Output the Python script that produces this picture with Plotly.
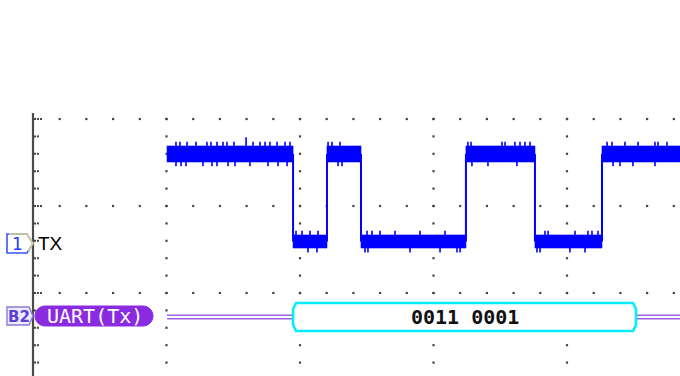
import plotly.graph_objects as go

# ---------------- data (time in screen divisions, amplitude in divisions) -------------
# edge times of the captured TX waveform (segment boundaries)
edge_times = [1.004, 1.948, 2.202, 2.457, 3.243, 3.760, 4.262, 4.90]
# logic state of each segment between consecutive edges
segment_states = [1, 0, 1, 0, 1, 0, 1]
level_high = 0.598      # div
level_low = -0.408      # div
noise_high = 0.092      # half-width of noise band at high level (div)
noise_low = 0.075       # half-width of noise band at low level (div)
spike_len = 0.05        # typical noise spike beyond band (div)

high_top_spikes = [1.071, 1.101, 1.154, 1.221, 1.303, 1.333, 1.378, 1.423, 1.453, 1.506,
                   1.596, 1.648, 1.700, 1.738, 1.775, 1.828, 1.888, 1.925,
                   2.210, 2.240, 2.300,
                   3.258, 3.281, 3.513, 3.536, 3.610, 3.648, 3.685, 3.723,
                   4.300, 4.337, 4.434, 4.532, 4.659, 4.682, 4.749]
high_top_tall = {1.596: 0.10}
high_bot_spikes = [1.071, 1.109, 1.146, 1.273, 1.341, 1.378, 1.461, 1.513, 1.625,
                   1.760, 1.835, 1.903, 2.285, 2.315,
                   3.288, 3.408, 3.625, 4.345, 4.397, 4.494, 4.659]
low_top_spikes = [1.970, 2.015, 2.075, 2.135, 2.502, 2.539, 2.599, 2.712, 2.899, 3.086,
                  3.835, 3.858, 4.060, 4.157, 4.187, 4.232]
low_bot_spikes = [2.060, 2.127, 2.487, 2.509, 2.824, 3.049, 3.176, 3.199,
                  3.775, 3.798, 4.022, 4.135]

# UART decode
decode_start = 1.948
decode_end = 4.517
decode_value = 0x31
bus_level = -1.276
bus_start = 1.004
bus_end = 4.90

# screen / grid
x_range = [-0.2472, 4.8464]
y_range = [-1.954, 2.368]
major_x = [1, 2, 3, 4]
major_y = [1, 0, -1]
minor_step = 0.2

# ---------------- helpers for decorations (pixel -> data) -------------
PX_X0, PX_DX, PX_Y0, PX_DY = 33.0, 133.5, 206.0, 87.0
def dx(px):
    return (px - PX_X0) / PX_DX
def dy(py):
    return (PX_Y0 - py) / PX_DY

BLUE = "#0000ff"
fig = go.Figure()

# ---------------- grid dots -------------
gx, gy = [], []
n_rows = int((1 - y_range[0]) / minor_step) + 1
for xm in major_x:
    for k in range(n_rows):
        gx.append(xm); gy.append(1 - k * minor_step)
n_cols = int(x_range[1] / minor_step) + 1
for ym in major_y:
    for k in range(1, n_cols + 1):
        gx.append(k * minor_step); gy.append(ym)
fig.add_trace(go.Scatter(x=gx, y=gy, mode="markers", hoverinfo="skip",
                         marker=dict(size=2.2, color="#444", symbol="square", line=dict(width=0))))
# axis tick dots
tx, ty = [], []
for k in range(n_rows):
    yv = 1 - k * minor_step
    major = abs(round(yv) - yv) < 1e-6
    offs = [0.015, 0.037, 0.060] if major else [0.015, 0.037]
    for o in offs:
        tx.append(o); ty.append(yv)
fig.add_trace(go.Scatter(x=tx, y=ty, mode="markers", hoverinfo="skip",
                         marker=dict(size=2, color="#444", symbol="square", line=dict(width=0))))

# left axis line
fig.add_shape(type="line", x0=0, x1=0, y0=dy(113), y1=y_range[0] - 0.1,
              line=dict(color="#4a4a4a", width=2.2), layer="above")

# ---------------- waveform -------------
bx, by = [], []
vx, vy = [], []
for i, st in enumerate(segment_states):
    t0, t1 = edge_times[i], edge_times[i + 1]
    lv, h = (level_high, noise_high) if st else (level_low, noise_low)
    bx += [t0, t1, t1, t0, t0, None]
    by += [lv - h, lv - h, lv + h, lv + h, lv - h, None]
    if i > 0:
        vx += [t0, t0, None]
        vy += [level_high, level_low, None]
fig.add_trace(go.Scatter(x=bx, y=by, mode="lines", fill="toself", fillcolor=BLUE,
                         line=dict(width=0.6, color=BLUE), hoverinfo="skip"))
fig.add_trace(go.Scatter(x=vx, y=vy, mode="lines", line=dict(width=2, color=BLUE),
                         hoverinfo="skip"))
sx, sy = [], []
for t in high_top_spikes:
    base = level_high + noise_high
    sx += [t, t, None]; sy += [base - 0.01, base + high_top_tall.get(t, spike_len), None]
for t in high_bot_spikes:
    base = level_high - noise_high
    sx += [t, t, None]; sy += [base + 0.01, base - spike_len, None]
for t in low_top_spikes:
    base = level_low + noise_low
    sx += [t, t, None]; sy += [base - 0.01, base + spike_len, None]
for t in low_bot_spikes:
    base = level_low - noise_low
    sx += [t, t, None]; sy += [base + 0.01, base - spike_len, None]
fig.add_trace(go.Scatter(x=sx, y=sy, mode="lines", line=dict(width=1.6, color=BLUE),
                         hoverinfo="skip"))

# ---------------- bus decode -------------
PURPLE_LINE = "#9d63e3"
off = 1.75 / PX_DY
for y_off in (off, -off):
    fig.add_trace(go.Scatter(x=[bus_start, decode_start, None, decode_end, bus_end],
                             y=[bus_level + y_off] * 2 + [None] + [bus_level + y_off] * 2,
                             mode="lines", line=dict(width=1.6, color=PURPLE_LINE),
                             hoverinfo="skip"))
hh = 14 / PX_DY
ch_x, ch_y = 3 / PX_DX, 6 / PX_DY
path = (f"M{decode_start + ch_x},{bus_level + hh} L{decode_end - ch_x},{bus_level + hh} "
        f"L{decode_end},{bus_level + hh - ch_y} L{decode_end},{bus_level - hh + ch_y} "
        f"L{decode_end - ch_x},{bus_level - hh} L{decode_start + ch_x},{bus_level - hh} "
        f"L{decode_start},{bus_level - hh + ch_y} L{decode_start},{bus_level + hh - ch_y} Z")
fig.add_shape(type="path", path=path, line=dict(color="#00eeff", width=2.6),
              fillcolor="white", layer="above")
bits = format(decode_value, "08b")
fig.add_annotation(x=(decode_start + decode_end) / 2, y=bus_level, text="<b>" + bits[:4] + " " + bits[4:] + "</b>",
                   showarrow=False, xanchor="center", yanchor="middle",
                   font=dict(family="DejaVu Sans Mono", size=20, color="#111"))

# ---------------- channel labels -------------
# channel 1 marker
p1 = (f"M{dx(7)},{dy(234)} L{dx(27)},{dy(234)} L{dx(33)},{dy(243.5)} "
      f"L{dx(27)},{dy(253)} L{dx(7)},{dy(253)} Z")
fig.add_shape(type="path", path=p1, line=dict(color="#3355ff", width=1.6), fillcolor="white")
p1y = f"M{dx(9)},{dy(234)} L{dx(27)},{dy(234)} L{dx(33)},{dy(243.5)} L{dx(28)},{dy(251)}"
fig.add_shape(type="path", path=p1y, line=dict(color="#d6d68a", width=1.6))
fig.add_annotation(x=dx(17), y=dy(244), text="1", showarrow=False, xanchor="center",
                   yanchor="middle", font=dict(family="DejaVu Sans", size=17, color="#2040ff"))
fig.add_annotation(x=dx(36), y=dy(243), text="TX", showarrow=False, xanchor="left",
                   yanchor="middle", font=dict(family="Liberation Sans", size=19, color="#000"))

# bus B2 marker
p2 = (f"M{dx(7)},{dy(307)} L{dx(29)},{dy(307)} L{dx(33)},{dy(316)} "
      f"L{dx(29)},{dy(325)} L{dx(7)},{dy(325)} Z")
fig.add_shape(type="path", path=p2, line=dict(color="#8a7bd8", width=1.4), fillcolor="#eeeaff")
fig.add_annotation(x=dx(19), y=dy(316.5), text="<b>B2</b>", showarrow=False, xanchor="center",
                   yanchor="middle", font=dict(family="DejaVu Sans", size=15, color="#5b3fd6"))
# UART pill
L, R, T, B = 35, 153, 306, 326
r = (B - T) / 2
k = 0.55 * r
pill = (f"M{dx(L + r)},{dy(T)} L{dx(R - r)},{dy(T)} "
        f"C{dx(R - r + k)},{dy(T)} {dx(R)},{dy(T + r - k)} {dx(R)},{dy(T + r)} "
        f"C{dx(R)},{dy(B - r + k)} {dx(R - r + k)},{dy(B)} {dx(R - r)},{dy(B)} "
        f"L{dx(L + r)},{dy(B)} "
        f"C{dx(L + r - k)},{dy(B)} {dx(L)},{dy(B - r + k)} {dx(L)},{dy(B - r)} "
        f"C{dx(L)},{dy(T + r - k)} {dx(L + r - k)},{dy(T)} {dx(L + r)},{dy(T)} Z")
fig.add_shape(type="path", path=pill, line=dict(color="#8a2be2", width=1), fillcolor="#8a2be2")
fig.add_annotation(x=dx(95), y=dy(316), text="UART(Tx)", showarrow=False, xanchor="center",
                   yanchor="middle", font=dict(family="DejaVu Sans Mono", size=20, color="white"))

fig.update_layout(
    width=680, height=376, margin=dict(l=0, r=0, t=0, b=0),
    paper_bgcolor="white", plot_bgcolor="white", showlegend=False,
    xaxis=dict(range=x_range, visible=False, fixedrange=True),
    yaxis=dict(range=y_range, visible=False, fixedrange=True),
)
fig.write_html("out.html", config={"displayModeBar": False},
               post_script="document.body.style.margin='0';document.body.style.overflow='hidden';")
